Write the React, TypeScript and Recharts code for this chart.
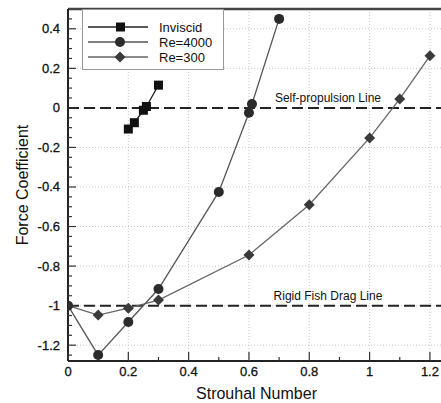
import {
  LineChart,
  Line,
  XAxis,
  YAxis,
  CartesianGrid,
  ReferenceLine,
  ReferenceDot,
  Legend,
} from "recharts";

// Strouhal number vs force coefficient
const invSt = [0.2, 0.22, 0.25, 0.26, 0.3];
const invCf = [-0.107, -0.075, -0.012, 0.007, 0.115];
const re4000St = [0, 0.1, 0.2, 0.3, 0.5, 0.6, 0.61, 0.7];
const re4000Cf = [-1.0, -1.25, -1.083, -0.916, -0.425, -0.025, 0.02, 0.45];
const re300St = [0, 0.1, 0.2, 0.3, 0.6, 0.8, 1.0, 1.1, 1.2];
const re300Cf = [-1.0, -1.048, -1.013, -0.972, -0.744, -0.49, -0.152, 0.045, 0.263];

const xTicks = [0, 0.1, 0.2, 0.3, 0.4, 0.5, 0.6, 0.7, 0.8, 0.9, 1.0, 1.1, 1.2];
const yTicks = [
  -1.25, -1.2, -1.15, -1.1, -1.05, -1.0, -0.95, -0.9, -0.85, -0.8, -0.75, -0.7,
  -0.65, -0.6, -0.55, -0.5, -0.45, -0.4, -0.35, -0.3, -0.25, -0.2, -0.15, -0.1,
  -0.05, 0, 0.05, 0.1, 0.15, 0.2, 0.25, 0.3, 0.35, 0.4, 0.45,
];
const xGrid = [0.2, 0.4, 0.6, 0.8, 1.0, 1.2];
const yGrid = [-1.2, -1.0, -0.8, -0.6, -0.4, -0.2, 0, 0.2, 0.4];
const legendNames = ["Inviscid", "Re=4000", "Re=300"];

const X_MAX = 1.25;
const Y_MIN = -1.28;
const Y_MAX = 0.5;

const FONT = '"Liberation Sans", Arial, Helvetica, sans-serif';

const toRows = (xs: number[], ys: number[]) => xs.map((st, i) => ({ st, cf: ys[i] }));
const invData = toRows(invSt, invCf);
const re4000Data = toRows(re4000St, re4000Cf);
const re300Data = toRows(re300St, re300Cf);

const fmt = (v: number) => String(Math.round(v * 10) / 10);

function Square(p: any) {
  if (p.cx == null) return <g key={p.index} />;
  return <rect key={p.index} x={p.cx - 4.5} y={p.cy - 4.5} width={9} height={9} fill="#111" />;
}
function Dot(p: any) {
  if (p.cx == null) return <g key={p.index} />;
  return <circle key={p.index} cx={p.cx} cy={p.cy} r={5} fill="#2b2b2b" />;
}
function Diamond(p: any) {
  if (p.cx == null) return <g key={p.index} />;
  const s = 5.5;
  return (
    <polygon
      key={p.index}
      points={`${p.cx},${p.cy - s} ${p.cx + s},${p.cy} ${p.cx},${p.cy + s} ${p.cx - s},${p.cy}`}
      fill="#3a3a3a"
    />
  );
}

function YTick(props: any) {
  const { x, y, payload } = props;
  const v = payload.value;
  const major = Math.round(v * 100) % 20 === 0;
  return (
    <g>
      <line x1={x} x2={x + (major ? 8 : 4)} y1={y} y2={y} stroke="#333" strokeWidth={1.2} />
      {major && (
        <text
          x={x - 8}
          y={y + 4.5}
          textAnchor="end"
          fontSize={13}
          fontFamily={FONT}
          fill="#111"
          stroke="#111"
          strokeWidth={0.3}
        >
          {fmt(v)}
        </text>
      )}
    </g>
  );
}

function XTick(props: any) {
  const { x, y, payload } = props;
  const v = payload.value;
  const major = Math.round(v * 10) % 2 === 0;
  return (
    <g>
      <line x1={x} x2={x} y1={y} y2={y - (major ? 9 : 4)} stroke="#333" strokeWidth={1.2} />
      {major && (
        <text
          x={x}
          y={y + 15}
          textAnchor="middle"
          fontSize={13}
          fontFamily={FONT}
          fill="#111"
          stroke="#111"
          strokeWidth={0.3}
        >
          {fmt(v)}
        </text>
      )}
    </g>
  );
}

function LegendBox() {
  const markers = [
    <rect x={34} y={-4.5} width={9} height={9} fill="#111" />,
    <circle cx={38} cy={0} r={5} fill="#2b2b2b" />,
    <polygon points="38,-5.5 43.5,0 38,5.5 32.5,0" fill="#3a3a3a" />,
  ];
  const strokes = ["#222", "#555", "#666"];
  return (
    <svg width={142} height={61} style={{ display: "block" }}>
      <rect x={0.5} y={0.5} width={141} height={60} fill="#fff" stroke="#999" />
      {legendNames.map((name, i) => (
        <g key={name} transform={`translate(0, ${18 + i * 15})`}>
          <line x1={6} x2={66} y1={0} y2={0} stroke={strokes[i]} strokeWidth={1.5} />
          {markers[i]}
          <text x={77} y={4.5} fontSize={13} fontFamily={FONT} fill="#111">
            {name}
          </text>
        </g>
      ))}
    </svg>
  );
}

export default function App() {
  return (
    <div
      style={{
        position: "absolute",
        left: 0,
        top: 0,
        width: 441,
        height: 403,
        overflow: "hidden",
        background: "#fff",
      }}
    >
      <LineChart width={452} height={403} margin={{ top: 9, right: 7, bottom: 0, left: 0 }}>
        <CartesianGrid
          horizontalValues={yGrid}
          verticalValues={xGrid}
          stroke="#c8c8c8"
          strokeDasharray="1 2"
        />
        <XAxis
          dataKey="st"
          type="number"
          domain={[0, X_MAX]}
          ticks={xTicks}
          interval={0}
          allowDataOverflow
          height={42}
          tickSize={0}
          tickMargin={0}
          tickLine={false}
          tick={XTick}
          axisLine={{ stroke: "#222", strokeWidth: 2 }}
          label={{
            value: "Strouhal Number",
            position: "insideBottom",
            offset: 4,
            fontSize: 16,
            fontFamily: FONT,
            fill: "#111",
          }}
        />
        <YAxis
          type="number"
          domain={[Y_MIN, Y_MAX]}
          ticks={yTicks}
          interval={0}
          allowDataOverflow
          width={68}
          tickSize={0}
          tickMargin={0}
          tickLine={false}
          tick={YTick}
          axisLine={{ stroke: "#222", strokeWidth: 2 }}
          label={(p: any) => {
            const vb = p.viewBox;
            const cx = vb.x + 22;
            const cy = vb.y + vb.height / 2;
            return (
              <text
                x={cx}
                y={cy}
                transform={`rotate(-90 ${cx} ${cy})`}
                textAnchor="middle"
                dominantBaseline="central"
                fontSize={16}
                fontFamily={FONT}
                fill="#111"
              >
                Force Coefficient
              </text>
            );
          }}
        />
        <ReferenceLine y={Y_MAX} stroke="#444" strokeWidth={2.5} />
        <ReferenceLine y={0} stroke="#222" strokeWidth={2} strokeDasharray="11 5" />
        <ReferenceLine y={-1} stroke="#222" strokeWidth={2} strokeDasharray="11 5" />
        <ReferenceDot
          x={0.862}
          y={0}
          r={0}
          fill="none"
          stroke="none"
          label={{ value: "Self-propulsion Line", position: "top", offset: 6, fontSize: 12, fontFamily: FONT, fill: "#111" }}
        />
        <ReferenceDot
          x={0.862}
          y={-1}
          r={0}
          fill="none"
          stroke="none"
          label={{ value: "Rigid Fish Drag Line", position: "top", offset: 6, fontSize: 12, fontFamily: FONT, fill: "#111" }}
        />
        <Line
          data={re300Data}
          dataKey="cf"
          name="Re=300"
          type="linear"
          stroke="#666"
          strokeWidth={1.3}
          dot={Diamond}
          activeDot={false}
          isAnimationActive={false}
        />
        <Line
          data={re4000Data}
          dataKey="cf"
          name="Re=4000"
          type="linear"
          stroke="#555"
          strokeWidth={1.3}
          dot={Dot}
          activeDot={false}
          isAnimationActive={false}
        />
        <Line
          data={invData}
          dataKey="cf"
          name="Inviscid"
          type="linear"
          stroke="#222"
          strokeWidth={1.3}
          dot={Square}
          activeDot={false}
          isAnimationActive={false}
        />
        <Legend
          layout="vertical"
          align="center"
          verticalAlign="middle"
          content={() => <LegendBox />}
          wrapperStyle={{ left: 82, top: 9, width: 142, height: 61 }}
        />
      </LineChart>
    </div>
  );
}
